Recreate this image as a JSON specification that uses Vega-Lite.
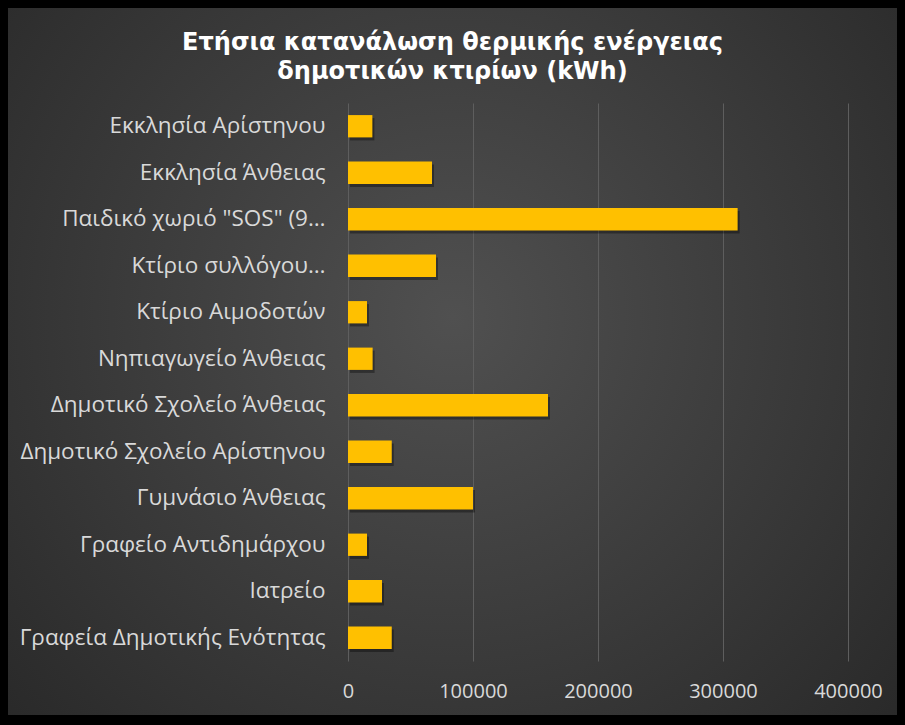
{
  "$schema": "https://vega.github.io/schema/vega-lite/v6.json",
  "width": 889,
  "height": 707,
  "autosize": "none",
  "padding": {"left": 8, "top": 8, "right": 8, "bottom": 10},
  "background": "#000000",
  "view": {
    "stroke": null,
    "fill": {
      "gradient": "radial",
      "x1": 0.5, "y1": 0.45, "x2": 0.5, "y2": 0.45,
      "r1": 0, "r2": 0.75,
      "stops": [
        {"offset": 0, "color": "#505050"},
        {"offset": 1, "color": "#252525"}
      ]
    }
  },
  "title": {
    "text": ["Ετήσια κατανάλωση θερμικής ενέργειας", "δημοτικών κτιρίων (kWh)"],
    "font": "DejaVu Sans",
    "fontSize": 24,
    "fontWeight": "bold",
    "color": "#ffffff",
    "anchor": "middle",
    "frame": "group",
    "lineHeight": 29,
    "baseline": "top",
    "offset": -76
  },
  "data": {
    "values": [
      {"building": "Εκκλησία Αρίστηνου", "kwh": 19500},
      {"building": "Εκκλησία Άνθειας", "kwh": 67200},
      {"building": "Παιδικό χωριό \"SOS\" (9…", "kwh": 311700},
      {"building": "Κτίριο συλλόγου…", "kwh": 70400},
      {"building": "Κτίριο Αιμοδοτών", "kwh": 15200},
      {"building": "Νηπιαγωγείο Άνθειας", "kwh": 19700},
      {"building": "Δημοτικό Σχολείο Άνθειας", "kwh": 160000},
      {"building": "Δημοτικό Σχολείο Αρίστηνου", "kwh": 35000},
      {"building": "Γυμνάσιο Άνθειας", "kwh": 100000},
      {"building": "Γραφείο Αντιδημάρχου", "kwh": 15200},
      {"building": "Ιατρείο", "kwh": 27200},
      {"building": "Γραφεία Δημοτικής Ενότητας", "kwh": 35000}
    ]
  },
  "encoding": {
    "y": {
      "field": "building",
      "type": "nominal",
      "sort": null,
      "scale": {"range": [95, 653], "paddingInner": 0.52, "paddingOuter": 0.26},
      "axis": {
        "title": null,
        "orient": "left",
        "offset": -340,
        "domain": false,
        "ticks": false,
        "grid": false,
        "labelPadding": 23,
        "labelLimit": 0,
        "labelFont": "Open Sans",
        "labelFontSize": 22.5,
        "labelColor": "#d9d9d9"
      }
    }
  },
  "layer": [
    {
      "mark": {"type": "bar", "color": "#000000", "opacity": 0.35, "xOffset": 2, "yOffset": 3},
      "encoding": {
        "x": {
          "field": "kwh",
          "type": "quantitative",
          "scale": {"domain": [-272000, 439200], "nice": false, "zero": false},
          "axis": {
            "title": null,
            "orient": "top",
            "values": [0, 100000, 200000, 300000, 400000],
            "labels": false,
            "domain": false,
            "ticks": false,
            "grid": true,
            "gridColor": "#5e5e5e",
            "gridWidth": 1
          }
        }
      }
    },
    {
      "mark": {"type": "bar", "color": "#FFC000"},
      "encoding": {
        "x": {
          "field": "kwh",
          "type": "quantitative",
          "axis": {
            "title": null,
            "orient": "bottom",
            "values": [0, 100000, 200000, 300000, 400000],
            "format": "d",
            "domain": false,
            "ticks": false,
            "grid": false,
            "offset": -39,
            "labelPadding": 5,
            "labelFont": "Open Sans",
            "labelFontSize": 20,
            "labelColor": "#d9d9d9"
          }
        }
      }
    }
  ]
}
